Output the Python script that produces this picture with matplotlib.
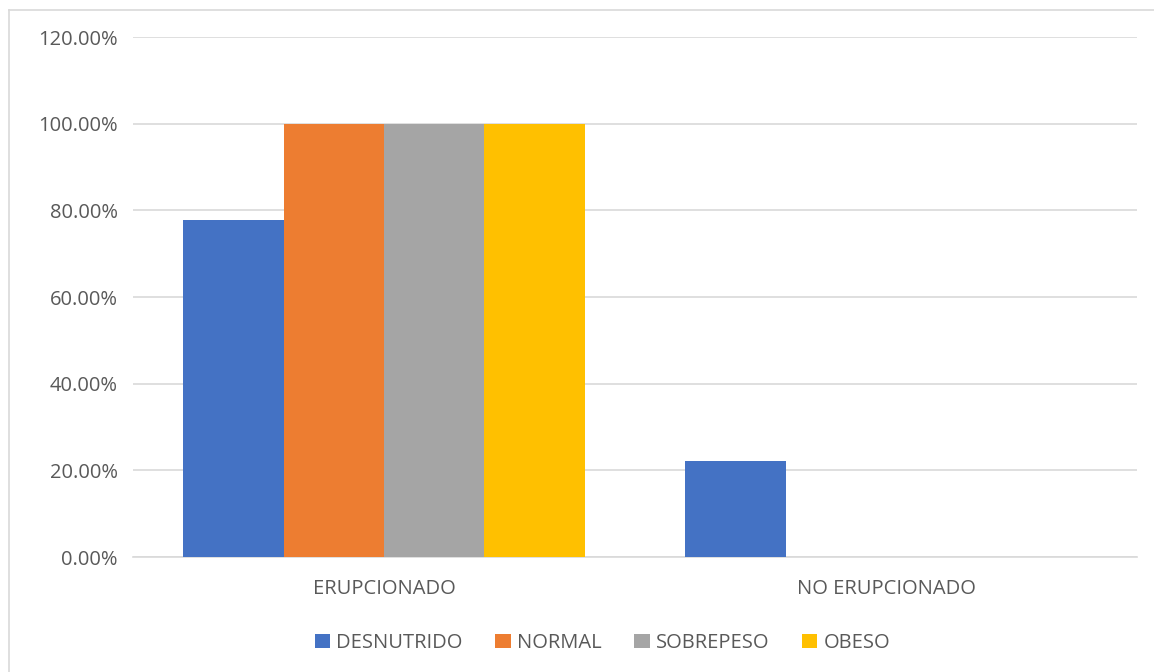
import matplotlib.pyplot as plt
from matplotlib.lines import Line2D
from matplotlib.ticker import FuncFormatter
import numpy as np

categories = ["ERUPCIONADO", "NO ERUPCIONADO"]
series_names = ["DESNUTRIDO", "NORMAL", "SOBREPESO", "OBESO"]
desnutrido = [77.78, 22.22]
normal = [100.0, 0.0]
sobrepeso = [100.0, 0.0]
obeso = [100.0, 0.0]
colors = ["#4472C4", "#ED7D31", "#A5A5A5", "#FFC000"]

plt.rcParams["font.family"] = ["Open Sans", "DejaVu Sans"]
text_color = "#595959"

fig = plt.figure(figsize=(11.54, 6.72), dpi=100)
ax = fig.add_axes([0.1153, 0.1711, 0.8700, 0.7738])

x = np.arange(len(categories))
width = 0.2
all_series = [desnutrido, normal, sobrepeso, obeso]
for i, (name, vals) in enumerate(zip(series_names, all_series)):
    ax.bar(x + (i - 1.5) * width, vals, width, color=colors[i], label=name, zorder=3)

ax.set_xlim(-0.5, 1.5)
ax.set_ylim(0, 120)
ax.set_yticks(np.arange(0, 121, 20))
ax.yaxis.set_major_formatter(FuncFormatter(lambda v, p: f"{v:.2f}%"))
ax.set_xticks(x)
ax.set_xticklabels(categories)
ax.grid(axis="y", color="#D9D9D9", linewidth=1.2, zorder=0)
ax.tick_params(length=0, colors=text_color, labelsize=14.5)
ax.tick_params(axis="y", pad=11)
ax.tick_params(axis="x", pad=16)
for s in ["top", "right", "left"]:
    ax.spines[s].set_visible(False)
ax.spines["bottom"].set_color("#D9D9D9")
ax.spines["bottom"].set_linewidth(1.2)

leg = fig.legend(loc="center", bbox_to_anchor=(0.522, 0.043), ncol=4, frameon=False,
                 fontsize=14.5, handlelength=0.75, handleheight=0.75, handletextpad=0.3,
                 columnspacing=1.65)
for t in leg.get_texts():
    t.set_color(text_color)

# outer chart border (top and left visible)
fig.add_artist(Line2D([9 / 1154, 1], [1 - 10 / 672, 1 - 10 / 672], color="#D9D9D9", lw=1.2))
fig.add_artist(Line2D([9 / 1154, 9 / 1154], [0, 1 - 10 / 672], color="#D9D9D9", lw=1.2))

fig.savefig("out.png", dpi=100, facecolor="white")
